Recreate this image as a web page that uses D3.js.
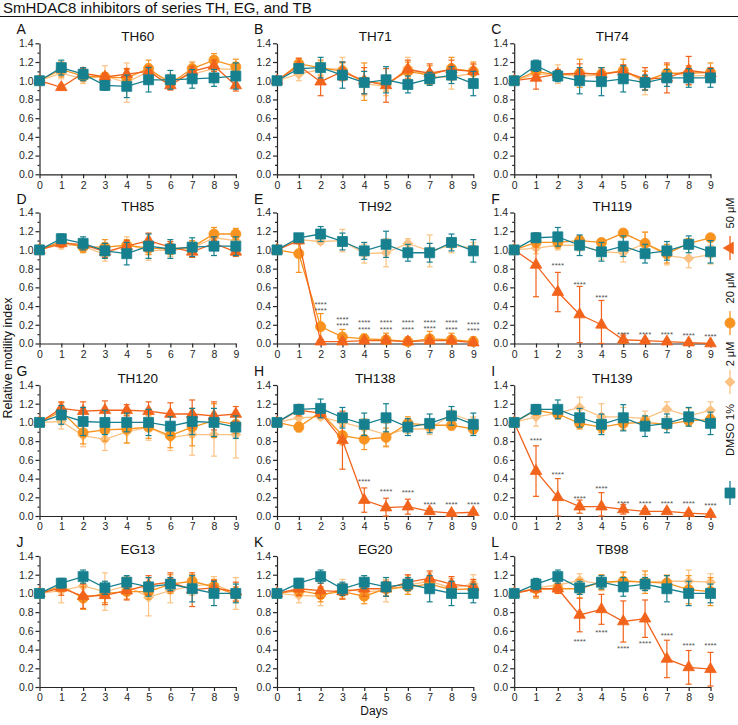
<!DOCTYPE html>
<html><head><meta charset="utf-8">
<script src="https://cdn.jsdelivr.net/npm/d3@7"></script>
<style>
body{margin:0;background:#fff}
svg{display:block;font-family:"Liberation Sans",Arial,sans-serif}
</style>
</head><body>
<svg id="c" width="738" height="725"></svg>
<script>
// ---------------- DATA ----------------
const days = [0,1,2,3,4,5,6,7,8,9];
const yTicks = [0,0.2,0.4,0.6,0.8,1.0,1.2,1.4];
const yMinorTicks = [0.1,0.3,0.5,0.7,0.9,1.1,1.3];
const panelLetters = ["A","B","C","D","E","F","G","H","I","J","K","L"];
const panelTitles = ["TH60","TH71","TH74","TH85","TH92","TH119","TH120","TH138","TH139","EG13","EG20","TB98"];
const seriesLabels = ["DMSO 1%","2 μM","20 μM","50 μM"];

const dmsoMean = [
 [1.0,1.14,1.07,0.95,0.94,1.01,1.01,1.02,1.03,1.05],
 [1.0,1.13,1.14,1.06,0.98,1.01,0.96,1.02,1.06,0.97],
 [1.0,1.16,1.05,1.00,0.99,1.02,0.98,1.03,1.03,1.03],
 [1.0,1.12,1.07,0.99,0.96,1.04,1.01,1.03,1.04,1.04],
 [1.0,1.13,1.17,1.09,0.99,1.06,0.97,0.97,1.08,0.99],
 [1.0,1.13,1.14,1.05,0.98,1.04,0.96,0.99,1.06,0.98],
 [1.0,1.08,1.01,1.00,1.00,1.00,0.96,1.01,1.00,0.95],
 [1.0,1.14,1.15,1.05,0.98,1.05,0.95,0.99,1.07,0.98],
 [1.0,1.14,1.14,1.05,0.98,1.05,0.96,0.99,1.06,0.99],
 [1.0,1.11,1.18,1.06,1.12,1.07,1.10,1.05,1.00,1.00],
 [1.0,1.11,1.18,1.05,1.12,1.07,1.10,1.05,1.00,1.00],
 [1.0,1.10,1.18,1.06,1.12,1.07,1.10,1.05,1.00,1.00]
];
const dmsoSD = [
 [0,0.08,0.07,0.05,0.12,0.13,0.10,0.10,0.09,0.14],
 [0,0.05,0.11,0.14,0.12,0.14,0.09,0.07,0.09,0.13],
 [0,0.06,0.06,0.14,0.15,0.14,0.08,0.09,0.10,0.10],
 [0,0.05,0.07,0.08,0.12,0.13,0.10,0.10,0.10,0.10],
 [0,0.04,0.08,0.09,0.09,0.14,0.09,0.10,0.09,0.12],
 [0,0.05,0.10,0.11,0.10,0.11,0.10,0.10,0.09,0.12],
 [0,0.10,0.15,0.13,0.10,0.14,0.10,0.14,0.15,0.12],
 [0,0.05,0.10,0.11,0.12,0.15,0.09,0.10,0.10,0.12],
 [0,0.05,0.10,0.10,0.11,0.14,0.11,0.10,0.10,0.12],
 [0,0.05,0.07,0.07,0.07,0.10,0.07,0.14,0.13,0.10],
 [0,0.05,0.07,0.07,0.07,0.10,0.07,0.14,0.13,0.10],
 [0,0.06,0.07,0.07,0.07,0.10,0.07,0.14,0.13,0.10]
];
const c2Mean = [
 [1.0,1.08,1.02,1.05,0.98,1.10,1.00,1.07,1.13,1.12],
 [1.0,1.07,1.12,1.13,0.97,0.94,1.14,1.04,1.04,1.08],
 [1.0,1.07,1.07,1.05,1.06,1.11,0.98,1.09,1.05,1.06],
 [1.0,1.06,1.04,0.95,1.06,0.99,1.00,1.02,1.13,1.10],
 [1.0,1.11,1.09,1.10,0.96,0.97,1.07,0.99,1.05,1.02],
 [1.0,1.02,1.05,1.05,0.98,0.97,1.07,0.94,0.91,0.95],
 [1.0,1.01,0.86,0.82,0.90,0.95,0.84,0.87,0.87,0.87],
 [1.0,1.05,1.06,1.00,0.94,0.87,0.93,0.93,1.09,1.01],
 [1.0,1.06,1.10,1.16,1.06,1.06,1.04,1.14,1.07,1.13],
 [1.0,1.03,1.08,1.02,1.08,0.96,1.03,1.08,1.10,1.00],
 [1.0,0.98,0.97,1.05,1.02,1.03,1.09,1.13,1.06,1.10],
 [1.0,1.06,1.09,1.14,1.10,1.14,1.12,1.13,1.13,1.12]
];
const c2SD = [
 [0,0.06,0.05,0.11,0.21,0.08,0.07,0.06,0.05,0.06],
 [0,0.07,0.08,0.12,0.13,0.10,0.11,0.06,0.13,0.09],
 [0,0.05,0.10,0.07,0.06,0.06,0.13,0.08,0.10,0.07],
 [0,0.05,0.06,0.07,0.08,0.10,0.07,0.07,0.06,0.08],
 [0,0.05,0.03,0.12,0.10,0.15,0.05,0.17,0.08,0.06],
 [0,0.06,0.05,0.06,0.08,0.10,0.12,0.10,0.10,0.10],
 [0,0.08,0.12,0.12,0.12,0.14,0.14,0.22,0.23,0.25],
 [0,0.08,0.03,0.10,0.10,0.12,0.05,0.06,0.04,0.05],
 [0,0.10,0.06,0.11,0.14,0.10,0.08,0.08,0.08,0.09],
 [0,0.13,0.10,0.20,0.10,0.20,0.13,0.10,0.08,0.17],
 [0,0.08,0.10,0.10,0.09,0.12,0.10,0.09,0.10,0.10],
 [0,0.10,0.08,0.07,0.07,0.08,0.08,0.07,0.12,0.09]
];
const c20Mean = [
 [1.0,1.12,1.05,1.04,1.03,1.13,0.97,1.13,1.22,1.15],
 [1.0,1.18,1.14,1.10,0.99,0.97,1.10,1.06,1.13,1.10],
 [1.0,1.10,1.06,1.08,1.07,1.11,1.00,1.08,1.08,1.09],
 [1.0,1.09,1.03,1.03,1.05,1.02,1.01,1.03,1.17,1.17],
 [1.0,0.96,0.18,0.07,0.05,0.04,0.02,0.05,0.04,0.02],
 [1.0,1.08,1.08,1.10,1.08,1.18,1.07,0.96,1.07,1.13],
 [1.0,1.12,0.89,0.92,0.93,0.95,0.86,0.95,1.02,0.98],
 [1.0,0.95,1.11,0.86,0.82,0.84,0.99,0.97,0.97,0.93],
 [1.0,1.13,1.09,0.99,0.95,0.99,1.00,0.98,1.02,1.03],
 [1.0,1.08,0.95,1.00,1.02,1.02,1.10,1.13,1.07,0.99],
 [1.0,1.03,0.99,1.02,0.97,1.05,1.07,1.10,1.04,1.05],
 [1.0,1.05,1.05,1.05,1.12,1.13,1.12,1.11,1.04,1.02]
];
const c20SD = [
 [0,0.08,0.05,0.04,0.09,0.09,0.06,0.07,0.07,0.08],
 [0,0.06,0.08,0.09,0.20,0.08,0.10,0.10,0.12,0.10],
 [0,0.05,0.05,0.15,0.07,0.12,0.10,0.09,0.08,0.10],
 [0,0.05,0.06,0.08,0.06,0.07,0.06,0.07,0.07,0.06],
 [0,0.20,0.14,0.08,0.05,0.07,0.05,0.08,0.07,0.05],
 [0,0.05,0.06,0.05,0.03,0.04,0.12,0.10,0.05,0.03],
 [0,0.09,0.12,0.12,0.15,0.12,0.13,0.20,0.18,0.10],
 [0,0.05,0.05,0.10,0.11,0.10,0.07,0.05,0.05,0.05],
 [0,0.05,0.05,0.06,0.06,0.07,0.06,0.05,0.06,0.05],
 [0,0.06,0.12,0.10,0.08,0.08,0.10,0.07,0.08,0.08],
 [0,0.06,0.08,0.08,0.08,0.08,0.08,0.08,0.08,0.08],
 [0,0.10,0.05,0.10,0.08,0.10,0.12,0.08,0.15,0.15]
];
const c50Mean = [
 [1.0,0.93,1.08,1.04,1.07,1.10,0.95,1.10,1.16,0.95],
 [1.0,1.16,0.99,1.10,1.00,0.95,1.12,1.08,1.12,1.10],
 [1.0,1.03,1.07,1.08,1.07,1.10,1.02,1.03,1.11,1.08],
 [1.0,1.07,1.06,0.98,1.04,1.10,1.03,0.98,1.07,0.98],
 [1.0,1.10,0.02,0.02,0.03,0.03,0.02,0.03,0.03,0.01],
 [1.0,0.84,0.55,0.31,0.20,0.04,0.03,0.02,0.01,0.00],
 [1.0,1.15,1.12,1.13,1.13,1.12,1.09,1.09,1.07,1.09],
 [1.0,1.13,1.10,0.81,0.17,0.09,0.10,0.05,0.03,0.04],
 [1.0,0.48,0.20,0.10,0.10,0.07,0.05,0.05,0.03,0.02],
 [1.0,1.06,0.97,0.98,1.03,1.09,1.12,1.04,1.06,1.02],
 [1.0,1.05,1.03,1.02,1.05,1.05,1.12,1.16,1.10,1.07],
 [1.0,1.05,1.05,0.77,0.83,0.70,0.73,0.30,0.21,0.19]
];
const c50SD = [
 [0,0.03,0.05,0.04,0.06,0.05,0.05,0.05,0.06,0.06],
 [0,0.08,0.15,0.10,0.14,0.18,0.10,0.10,0.10,0.08],
 [0,0.12,0.05,0.10,0.07,0.07,0.12,0.16,0.15,0.06],
 [0,0.04,0.05,0.06,0.06,0.08,0.06,0.06,0.07,0.05],
 [0,0.03,0.01,0.01,0.02,0.02,0.01,0.02,0.01,0.01],
 [0,0.34,0.21,0.30,0.26,0.05,0.02,0.02,0.01,0.01],
 [0,0.07,0.10,0.10,0.06,0.10,0.12,0.15,0.15,0.08],
 [0,0.06,0.05,0.31,0.13,0.10,0.08,0.03,0.02,0.02],
 [0,0.27,0.20,0.07,0.15,0.05,0.03,0.02,0.02,0.02],
 [0,0.08,0.13,0.10,0.10,0.10,0.10,0.18,0.08,0.10],
 [0,0.07,0.08,0.08,0.08,0.08,0.08,0.08,0.08,0.08],
 [0,0.08,0.05,0.18,0.16,0.22,0.20,0.20,0.18,0.18]
];
// significance marks: [day, y-value] per panel
const starMarks = [
 [],[],[],[],
 [[2,0.44],[2,0.37],[3,0.28],[3,0.21],[4,0.245],[4,0.175],[5,0.245],[5,0.175],[6,0.245],[6,0.175],[7,0.25],[7,0.18],[8,0.245],[8,0.175],[9,0.22],[9,0.155]],
 [[2,0.86],[3,0.65],[4,0.51],[5,0.12],[6,0.12],[7,0.12],[8,0.11],[9,0.10]],
 [],
 [[4,0.385],[5,0.28],[6,0.27],[7,0.14],[8,0.14],[9,0.14]],
 [[1,0.83],[2,0.46],[3,0.21],[4,0.31],[5,0.16],[6,0.16],[7,0.16],[8,0.16],[9,0.13]],
 [],[],
 [[3,0.51],[4,0.60],[5,0.43],[6,0.49],[7,0.57],[8,0.47],[9,0.47]]
];

// ---------------- DRAW ----------------
const svg = d3.select("#c");
const colX = [39.5, 277, 514.2];
const rowTop = [43.3, 212.5, 385, 556];
const W = 196.3, H = 131;
const AX = "#262626";

const series = [
  {label:seriesLabels[1], mean:c2Mean,  sd:c2SD,  color:"#fcc283", shape:"diamond"},
  {label:seriesLabels[2], mean:c20Mean, sd:c20SD, color:"#f7931e", shape:"circle"},
  {label:seriesLabels[3], mean:c50Mean, sd:c50SD, color:"#f2631b", shape:"triangle"},
  {label:seriesLabels[0], mean:dmsoMean,sd:dmsoSD,color:"#16808f", shape:"square"}
];
const legendOrder = [3,0,1,2]; // DMSO, 2, 20, 50 (bottom to top)

function shapePath(shape){
  if(shape==="square") return d3.symbol(d3.symbolSquare, 100)();
  if(shape==="circle") return d3.symbol(d3.symbolCircle, 80)();
  if(shape==="triangle") return d3.symbol(d3.symbolTriangle, 58)();
  return "M0,-5L5,0L0,5L-5,0Z";
}

// title
svg.append("text").attr("x",3).attr("y",12.7).attr("font-size",15).attr("fill","#111")
  .text("SmHDAC8 inhibitors of series TH, EG, and TB");
svg.append("line").attr("x1",0).attr("x2",738).attr("y1",16.5).attr("y2",16.5)
  .attr("stroke","#111").attr("stroke-width",1);

panelTitles.forEach((title,p)=>{
  const col = p%3, row = Math.floor(p/3);
  const x0 = colX[col], top = rowTop[row];
  const x = d3.scaleLinear().domain([0,9]).range([x0, x0+W]);
  const y = d3.scaleLinear().domain([0,1.4]).range([top+H, top]);
  const g = svg.append("g");

  const ya = g.append("g").attr("transform",`translate(${x0},0)`)
    .call(d3.axisLeft(y).tickValues(yTicks).tickFormat(d3.format(".1f")).tickSize(4).tickPadding(2).tickSizeOuter(0));
  const ym = g.append("g").attr("transform",`translate(${x0},0)`)
    .call(d3.axisLeft(y).tickValues(yMinorTicks).tickFormat("").tickSize(2).tickSizeOuter(0));
  ym.select(".domain").remove();
  const xa = g.append("g").attr("transform",`translate(0,${top+H})`)
    .call(d3.axisBottom(x).tickValues(days).tickFormat(d3.format("d")).tickSize(4).tickPadding(3).tickSizeOuter(0));
  [ya,ym,xa].forEach(a=>{
    a.selectAll("path,line").attr("stroke",AX).attr("stroke-width",1.2);
    a.selectAll("text").attr("fill",AX).attr("font-size",10.5).attr("font-family","Liberation Sans, Arial, sans-serif");
  });

  g.append("text").attr("x",x0-23).attr("y",top-9).attr("font-size",14).attr("fill","#111").text(panelLetters[p]);
  g.append("text").attr("x",x0+W/2).attr("y",top-2).attr("text-anchor","middle").attr("font-size",13.5).attr("fill","#111").text(title);

  series.forEach(s=>{
    const m = s.mean[p], sd = s.sd[p];
    const pts = days.map((d,i)=>({d, v:m[i], e:sd[i]}));
    const sg = g.append("g");
    sg.append("path").datum(pts)
      .attr("d", d3.line().x(q=>x(q.d)).y(q=>y(q.v)))
      .attr("fill","none").attr("stroke",s.color).attr("stroke-width",1.3);
    pts.filter(q=>q.e>0).forEach(q=>{
      const lo = y(Math.max(0,q.v-q.e)), hi = y(q.v+q.e), cx = x(q.d);
      sg.append("line").attr("x1",cx).attr("x2",cx).attr("y1",lo).attr("y2",hi).attr("stroke",s.color).attr("stroke-width",1.2);
      [lo,hi].forEach(yy=>sg.append("line").attr("x1",cx-3).attr("x2",cx+3).attr("y1",yy).attr("y2",yy).attr("stroke",s.color).attr("stroke-width",1.2));
    });
    sg.selectAll("path.mk").data(pts).enter().append("path").attr("class","mk")
      .attr("d",shapePath(s.shape))
      .attr("transform",q=>`translate(${x(q.d)},${y(q.v)})`)
      .attr("fill",s.color).attr("stroke",s.color).attr("stroke-width",0.8);
  });

  starMarks[p].forEach(([d,v])=>{
    g.append("text").attr("x",x(d)).attr("y",y(v)+4.5).attr("text-anchor","middle")
      .attr("font-size",8).attr("fill","#555").text("****");
  });
});

// axis titles
svg.append("text").attr("transform","translate(12,358) rotate(-90)").attr("text-anchor","middle")
  .attr("font-size",12.5).attr("fill","#111").text("Relative motility index");
svg.append("text").attr("x",374).attr("y",715).attr("text-anchor","middle")
  .attr("font-size",12).attr("fill","#111").text("Days");

// legend (rotated, reads bottom to top)
const legTextY = [430, 354, 288, 213];
const legMarkY = [493, 382, 323, 248];
legendOrder.forEach((si,k)=>{
  const s = series[si];
  const lx = 730;
  svg.append("line").attr("x1",lx).attr("x2",lx).attr("y1",legMarkY[k]-12).attr("y2",legMarkY[k]+12)
    .attr("stroke",s.color).attr("stroke-width",1.3);
  svg.append("path").attr("d",shapePath(s.shape))
    .attr("transform",`translate(${lx},${legMarkY[k]}) rotate(-90)`)
    .attr("fill",s.color).attr("stroke",s.color).attr("stroke-width",0.8);
  svg.append("text").attr("transform",`translate(${lx+4},${legTextY[k]}) rotate(-90)`)
    .attr("text-anchor","middle").attr("font-size",11).attr("fill","#111").text(s.label);
});
</script>
</body></html>
